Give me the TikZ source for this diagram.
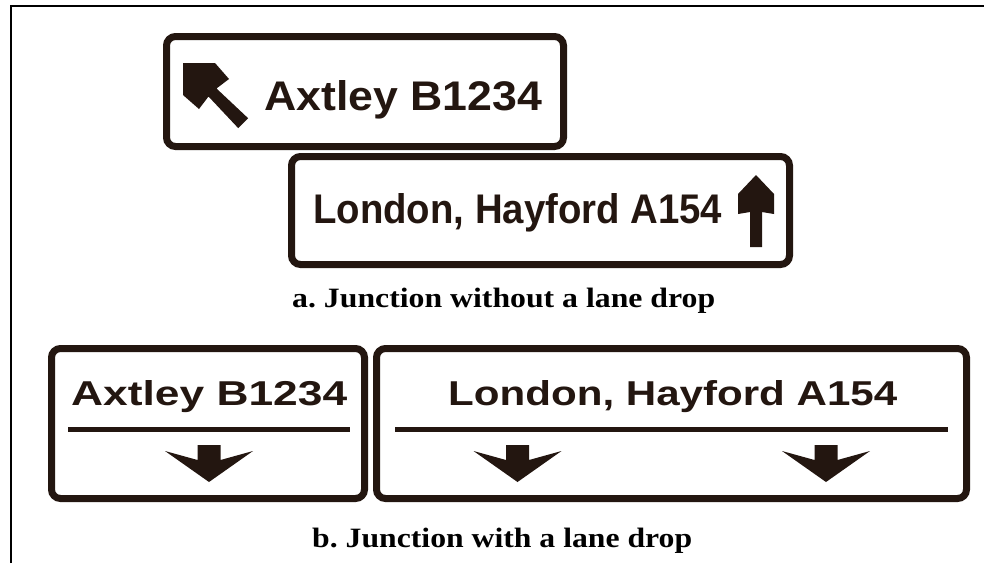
\documentclass[tikz,border=0pt]{standalone}
\usepackage{fontspec}
\usepackage{graphicx}
\setmainfont{Liberation Serif}
\newfontfamily\signfont{Liberation Sans}
\definecolor{signink}{RGB}{35,22,16}
\frenchspacing
\begin{document}
\begin{tikzpicture}[x=1pt,y=-1pt,
  signbox/.style={draw=signink, line width=7pt, rounded corners=9pt},
  signrule/.style={draw=signink, line width=5pt},
  signarrow/.style={fill=signink, draw=none},
  signtext/.style={inner sep=0pt, anchor=base west, text=signink},
  captext/.style={inner sep=0pt, anchor=base west, text=black},
  frameline/.style={draw=black, line width=2pt},
  droparrow/.pic={\fill[signink] (-11.5,0) -- (11.5,0) -- (11.5,15) -- (44,6) -- (0,37) -- (-44,6) -- (-11.5,15) -- cycle;}]
\useasboundingbox (0,0) rectangle (984,563);
% outer frame
\draw[frameline] (11,563) -- (11,6) -- (984,6);
% a. signs
\draw[signbox] (166.5,36.5) rectangle (563.5,146.5);
\fill[signarrow] (183,63) -- (215,63) -- (229,79) -- (216.5,88.5) -- (248.1,118.2)
  -- (238.2,128.1) -- (208.5,96.5) -- (199,109) -- (183,95) -- cycle;
\node[signtext] (t1) at (264,110) {\resizebox{278pt}{30pt}{\signfont\bfseries Axtley B1234}};
\draw[signbox] (291.5,156.5) rectangle (789.5,264.5);
\node[signtext] (t2) at (313,223) {\resizebox{409pt}{30pt}{\signfont\bfseries London, Hayford A154}};
\fill[signarrow] (756,175) -- (774,194) -- (774,214) -- (762,212) -- (762,247) -- (750,247)
  -- (750,212) -- (738,214) -- (738,194) -- cycle;
\node[captext] (capa) at (292,307) {\resizebox{423pt}{\height}{\fontsize{28}{28}\selectfont\bfseries a. Junction without a lane drop}};
% b. signs
\draw[signbox] (51.5,348.5) rectangle (364.5,498.5);
\node[signtext] (t3) at (71,405) {\resizebox{276pt}{25pt}{\signfont\bfseries Axtley B1234}};
\draw[signrule] (68,429) -- (350,429);
\pic at (209,445) {droparrow};
\draw[signbox] (376.5,348.5) rectangle (966.5,498.5);
\node[signtext] (t4) at (448,405) {\resizebox{449pt}{25pt}{\signfont\bfseries London, Hayford A154}};
\draw[signrule] (395,429) -- (948,429);
\pic at (517.5,445) {droparrow};
\pic at (826,445) {droparrow};
\node[captext] (capb) at (312,547) {\resizebox{380pt}{\height}{\fontsize{28}{28}\selectfont\bfseries b. Junction with a lane drop}};
\end{tikzpicture}
\end{document}
